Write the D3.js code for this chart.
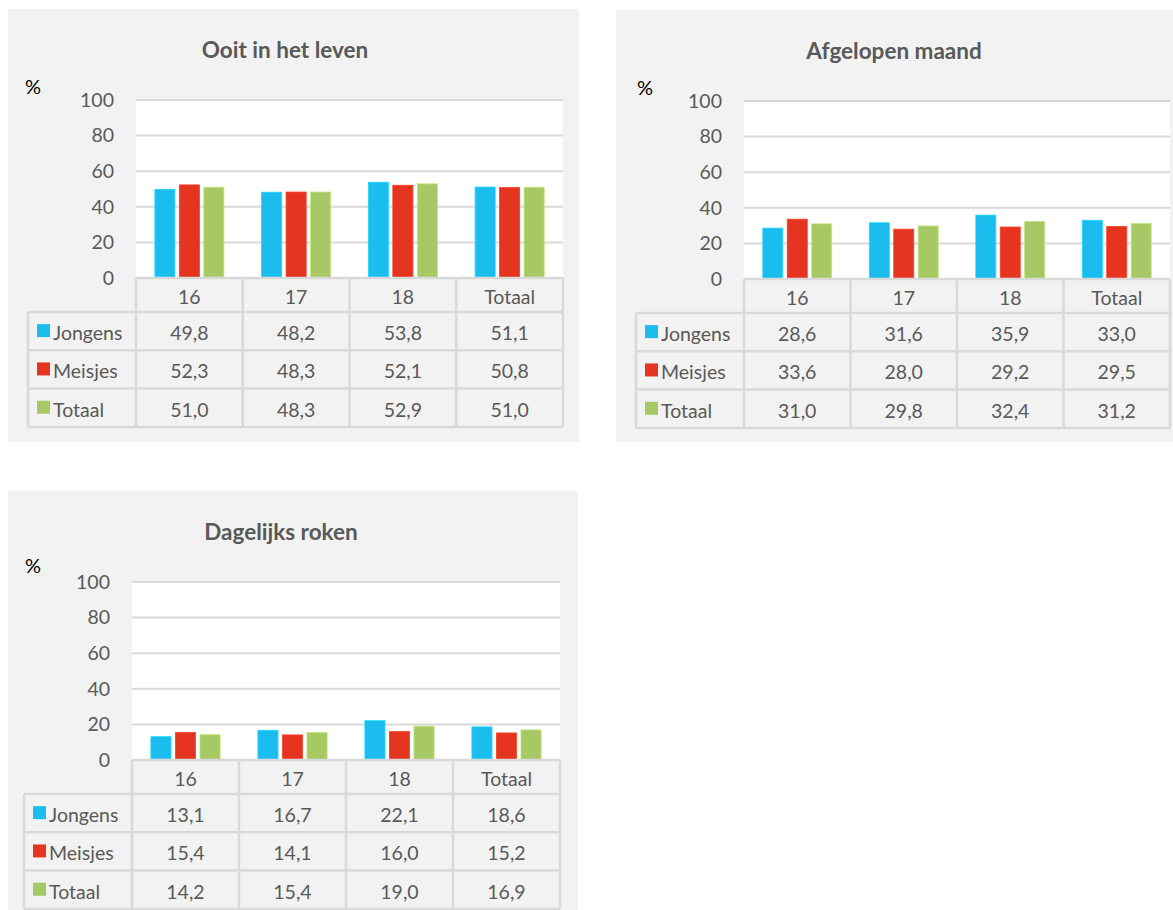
<!DOCTYPE html>
<html>
<head>
<meta charset="utf-8">
<script src="https://cdn.jsdelivr.net/npm/d3@7"></script>
<style>
  body { margin: 0; background: #ffffff; }
  svg { display: block; }
  text { font-family: Lato, "Open Sans", sans-serif; }
</style>
</head>
<body>
<div id="chart"></div>
<script>
// categorieën en reeksen
const categories = ["16", "17", "18", "Totaal"];
const seriesNames = ["Jongens", "Meisjes", "Totaal"];
const seriesColors = ["#1bbcee", "#e53420", "#a6c966"];
const yTicks = [0, 20, 40, 60, 80, 100];

// Ooit in het leven
const ooitJongens = [49.8, 48.2, 53.8, 51.1];
const ooitMeisjes = [52.3, 48.3, 52.1, 50.8];
const ooitTotaal  = [51.0, 48.3, 52.9, 51.0];

// Afgelopen maand
const maandJongens = [28.6, 31.6, 35.9, 33.0];
const maandMeisjes = [33.6, 28.0, 29.2, 29.5];
const maandTotaal  = [31.0, 29.8, 32.4, 31.2];

// Dagelijks roken
const dagJongens = [13.1, 16.7, 22.1, 18.6];
const dagMeisjes = [15.4, 14.1, 16.0, 15.2];
const dagTotaal  = [14.2, 15.4, 19.0, 16.9];

const svg = d3.select("#chart").append("svg")
    .attr("width", 1173)
    .attr("height", 910);

const fmt = v => v.toFixed(1).replace(".", ",");
const fs = 19.5;

function panel(title, values, box) {
    const g = svg.append("g");
    const grid = "#d9d9d9";
    const textCol = "#595959";

    // achtergrond
    g.append("rect")
        .attr("x", box.x).attr("y", box.y)
        .attr("width", box.w).attr("height", box.h)
        .attr("fill", "#f2f2f2");

    g.append("rect")
        .attr("x", box.left).attr("y", box.top)
        .attr("width", box.right - box.left).attr("height", box.bottom - box.top)
        .attr("fill", "#ffffff");

    g.append("text")
        .attr("x", box.titleX).attr("y", box.titleY)
        .attr("text-anchor", "middle")
        .attr("font-size", 22.5).attr("font-weight", "bold")
        .attr("fill", textCol)
        .text(title);

    g.append("text")
        .attr("x", box.pctX).attr("y", box.pctY)
        .attr("font-size", 20).attr("fill", "#000")
        .text("%");

    // schalen
    const x0 = d3.scaleBand().domain(categories).range([box.left, box.right]).padding(0);
    const x1 = d3.scaleBand().domain(seriesNames).range([0, x0.bandwidth()])
        .paddingInner(0.18).paddingOuter(0.77);
    const y = d3.scaleLinear().domain([0, 100]).range([box.bottom, box.top]);

    // rasterlijnen
    g.selectAll(".gl").data(yTicks.filter(t => t > 0)).enter().append("line")
        .attr("x1", box.left).attr("x2", box.right)
        .attr("y1", d => y(d)).attr("y2", d => y(d))
        .attr("stroke", grid).attr("stroke-width", 2);

    const yAxis = d3.axisLeft(y).tickValues(yTicks).tickSize(0).tickPadding(0);
    const ax = g.append("g")
        .attr("transform", `translate(${box.tickX},0)`)
        .call(yAxis);
    ax.select(".domain").remove();
    ax.selectAll("text").attr("font-size", fs).attr("fill", textCol)
        .attr("font-family", "Lato, 'Open Sans', sans-serif");

    // staven
    const rows = seriesNames.map((s, i) => ({ name: s, color: seriesColors[i], vals: values[i] }));
    rows.forEach(r => {
        g.selectAll(null).data(r.vals).enter().append("rect")
            .attr("x", (d, i) => x0(categories[i]) + x1(r.name))
            .attr("y", d => y(d))
            .attr("width", x1.bandwidth())
            .attr("height", d => y(0) - y(d))
            .attr("fill", r.color)
            .attr("stroke", d3.color(r.color).brighter(0.4))
            .attr("stroke-width", 0.8);
    });

    // gegevenstabel
    const headH = box.headH, rowH = box.rowH;
    const tTop = box.bottom;
    const rowTop = i => tTop + headH + i * rowH;
    const tBottom = rowTop(seriesNames.length);

    categories.forEach(c => {
        g.append("text")
            .attr("x", x0(c) + x0.bandwidth() / 2)
            .attr("y", tTop + headH / 2 + 2)
            .attr("dy", "0.36em")
            .attr("text-anchor", "middle")
            .attr("font-size", fs).attr("fill", textCol)
            .text(c);
    });

    rows.forEach((r, i) => {
        const cy = rowTop(i) + rowH / 2 + 2;
        g.append("rect")
            .attr("x", box.legLeft + 9).attr("y", cy - 9)
            .attr("width", 13).attr("height", 13)
            .attr("fill", r.color);
        g.append("text")
            .attr("x", box.legLeft + 25).attr("y", cy)
            .attr("dy", "0.36em")
            .attr("font-size", fs).attr("fill", textCol)
            .text(r.name);
        r.vals.forEach((v, j) => {
            g.append("text")
                .attr("x", x0(categories[j]) + x0.bandwidth() / 2)
                .attr("y", cy)
                .attr("dy", "0.36em")
                .attr("text-anchor", "middle")
                .attr("font-size", fs).attr("fill", textCol)
                .text(fmt(v));
        });
    });

    // tabel lijnen
    const lines = [];
    lines.push([box.left, tTop, box.right, tTop]);
    for (let i = 0; i <= seriesNames.length; i++) {
        lines.push([box.legLeft, rowTop(i), box.right, rowTop(i)]);
    }
    lines.push([box.legLeft, rowTop(0), box.legLeft, tBottom]);
    x0.domain().forEach(c => lines.push([x0(c), tTop, x0(c), tBottom]));
    lines.push([box.right, tTop, box.right, tBottom]);

    g.selectAll(null).data(lines).enter().append("line")
        .attr("x1", d => d[0]).attr("y1", d => d[1])
        .attr("x2", d => d[2]).attr("y2", d => d[3])
        .attr("stroke", grid).attr("stroke-width", 2.5);
}

panel("Ooit in het leven", [ooitJongens, ooitMeisjes, ooitTotaal], {
    x: 8, y: 9, w: 571, h: 433,
    left: 136, right: 563, top: 100, bottom: 278,
    headH: 34, rowH: 38.3, legLeft: 28,
    titleX: 285, titleY: 58, pctX: 25, pctY: 94, tickX: 114
});

panel("Afgelopen maand", [maandJongens, maandMeisjes, maandTotaal], {
    x: 616, y: 10, w: 557, h: 432,
    left: 744, right: 1170, top: 101, bottom: 279,
    headH: 34, rowH: 38.3, legLeft: 636,
    titleX: 894, titleY: 59, pctX: 637, pctY: 95, tickX: 722
});

panel("Dagelijks roken", [dagJongens, dagMeisjes, dagTotaal], {
    x: 8, y: 491, w: 570, h: 419,
    left: 132, right: 560, top: 582, bottom: 760,
    headH: 34, rowH: 38.3, legLeft: 24,
    titleX: 281, titleY: 540, pctX: 25, pctY: 573, tickX: 110
});
</script>
</body>
</html>
